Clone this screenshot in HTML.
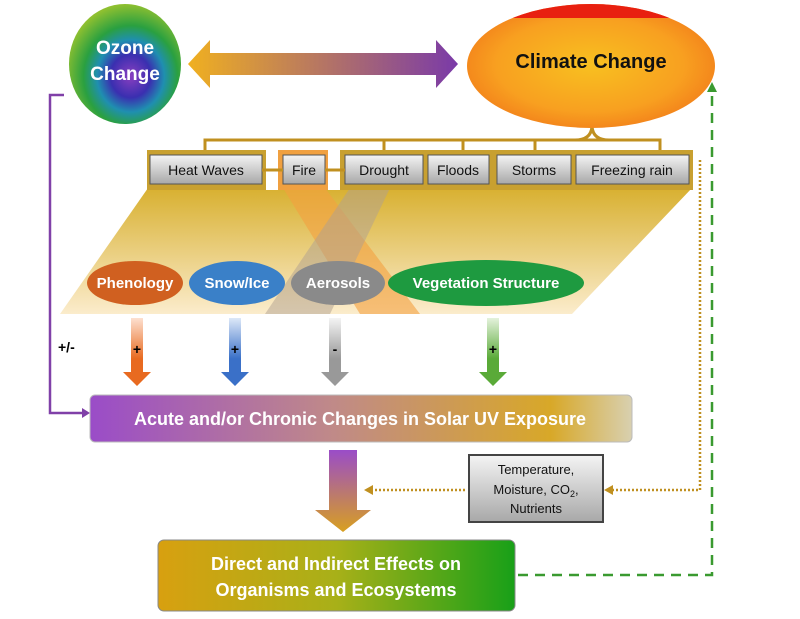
<!DOCTYPE html>
<html><head><meta charset="utf-8"><style>
body{margin:0;background:#fff;}
svg{display:block;font-family:"Liberation Sans",sans-serif;}
</style></head><body>
<svg width="800" height="619" viewBox="0 0 800 619">
<defs>
<radialGradient id="oz" cx="0.55" cy="0.6" r="0.6">
<stop offset="0" stop-color="#8a3fc0"/><stop offset="0.3" stop-color="#3a2fb0"/><stop offset="0.5" stop-color="#1f8fb0"/><stop offset="0.7" stop-color="#2aa040"/><stop offset="1" stop-color="#8fc030"/></radialGradient>
<radialGradient id="gl" cx="0.5" cy="0.5" r="0.6">
<stop offset="0" stop-color="#f8c020"/><stop offset="0.6" stop-color="#f8a020"/><stop offset="1" stop-color="#f07018"/></radialGradient>
<linearGradient id="dbl" x1="0" x2="1"><stop offset="0" stop-color="#f0b020"/><stop offset="1" stop-color="#7a3aa8"/></linearGradient>
<linearGradient id="uv" x1="0" x2="1"><stop offset="0" stop-color="#9a4cc8"/><stop offset="0.45" stop-color="#c08a88"/><stop offset="0.85" stop-color="#d8a828"/><stop offset="1" stop-color="#d8d0b0"/></linearGradient>
<linearGradient id="ef" x1="0" x2="1"><stop offset="0" stop-color="#d8a010"/><stop offset="0.5" stop-color="#a8b018"/><stop offset="1" stop-color="#18a018"/></linearGradient>
<linearGradient id="dn" x1="0" y1="0" x2="0" y2="1"><stop offset="0" stop-color="#9a4cc8"/><stop offset="1" stop-color="#d8a020"/></linearGradient>
<linearGradient id="box" x1="0" y1="0" x2="0" y2="1"><stop offset="0" stop-color="#f4f4f4"/><stop offset="1" stop-color="#a8a8a8"/></linearGradient>
<linearGradient id="tz" x1="0" y1="0" x2="0" y2="1"><stop offset="0" stop-color="#d8b030"/><stop offset="1" stop-color="#fbeccc"/></linearGradient>
<linearGradient id="ao" x1="0" y1="0" x2="0" y2="1"><stop offset="0" stop-color="#fde0d0"/><stop offset="0.6" stop-color="#e86a20"/></linearGradient>
<linearGradient id="ab" x1="0" y1="0" x2="0" y2="1"><stop offset="0" stop-color="#dde8f8"/><stop offset="0.6" stop-color="#3a70c8"/></linearGradient>
<linearGradient id="ag" x1="0" y1="0" x2="0" y2="1"><stop offset="0" stop-color="#f4f4f4"/><stop offset="0.6" stop-color="#999"/></linearGradient>
<linearGradient id="av" x1="0" y1="0" x2="0" y2="1"><stop offset="0" stop-color="#e4f2dc"/><stop offset="0.6" stop-color="#5aaa38"/></linearGradient>
<clipPath id="gc"><ellipse cx="591" cy="66" rx="124" ry="62"/></clipPath>
</defs>
<polygon points="148,188 692,188 572,314 60,314" fill="url(#tz)"/>
<polygon points="283,188 325,188 420,314 360,314" fill="#f4a040" opacity="0.6"/>
<polygon points="350,188 390,188 330,314 265,314" fill="#b0a090" opacity="0.5"/>
<rect x="147" y="150" width="546" height="40" fill="#c8a030"/>
<rect x="266" y="150" width="12" height="40" fill="#fff"/><rect x="328" y="150" width="12" height="40" fill="#fff"/>
<rect x="278" y="150" width="50" height="40" fill="#f0a040"/>
<g stroke="#555" stroke-width="1" fill="url(#box)">
<rect x="150" y="155" width="112" height="29"/><rect x="283" y="155" width="42" height="29"/><rect x="345" y="155" width="78" height="29"/><rect x="428" y="155" width="61" height="29"/><rect x="497" y="155" width="74" height="29"/><rect x="576" y="155" width="113" height="29"/>
</g>
<g font-size="14" fill="#111" text-anchor="middle">
<text x="206" y="175">Heat Waves</text><text x="304" y="175">Fire</text><text x="384" y="175">Drought</text><text x="458" y="175">Floods</text><text x="534" y="175">Storms</text><text x="632" y="175">Freezing rain</text></g>
<g stroke="#c09020" stroke-width="3" fill="none">
<path d="M205,150 V140 H660 V150"/><path d="M384,140 V150 M463,140 V150 M535,140 V150"/>
<path d="M575,140 Q592,140 592,125 Q592,140 609,140"/>
<path d="M262,170 H283 M345,170 H325"/></g>
<ellipse cx="135" cy="283" rx="48" ry="22" fill="#d06020"/>
<ellipse cx="237" cy="283" rx="48" ry="22" fill="#3a80c8"/>
<ellipse cx="338" cy="283" rx="47" ry="22" fill="#8a8a8a"/>
<ellipse cx="486" cy="283" rx="98" ry="23" fill="#1e9a40"/>
<g font-size="15" font-weight="bold" fill="#fff" text-anchor="middle">
<text x="135" y="288">Phenology</text><text x="237" y="288">Snow/Ice</text><text x="338" y="288">Aerosols</text><text x="486" y="288">Vegetation Structure</text></g>
<ellipse cx="125" cy="64" rx="56" ry="60" fill="url(#oz)"/>
<g font-size="19" font-weight="bold" fill="#fff" text-anchor="middle"><text x="125" y="54">Ozone</text><text x="125" y="80">Change</text></g>
<polygon points="188,64 210,40 210,53 436,53 436,40 458,64 436,88 436,75 210,75 210,88" fill="url(#dbl)"/>
<g clip-path="url(#gc)">
<rect x="460" y="0" width="260" height="130" fill="url(#gl)"/>
<rect x="460" y="0" width="260" height="18" fill="#e82010"/>
</g>
<text x="591" y="68" font-size="20" font-weight="bold" fill="#111" text-anchor="middle">Climate Change</text>
<path d="M64,95 H50 V413 H84" stroke="#8040a8" stroke-width="2.5" fill="none"/>
<polygon points="90,413 82,408 82,418" fill="#8040a8"/>
<text x="58" y="352" font-size="14" font-weight="bold">+/-</text>
<polygon points="131,318 143,318 143,372 151,372 137,386 123,372 131,372" fill="url(#ao)"/>
<polygon points="229,318 241,318 241,372 249,372 235,386 221,372 229,372" fill="url(#ab)"/>
<polygon points="329,318 341,318 341,372 349,372 335,386 321,372 329,372" fill="url(#ag)"/>
<polygon points="487,318 499,318 499,372 507,372 493,386 479,372 487,372" fill="url(#av)"/>
<g font-size="14" font-weight="bold" text-anchor="middle"><text x="137" y="354">+</text><text x="235" y="354">+</text><text x="335" y="354">-</text><text x="493" y="354">+</text></g>
<rect x="90" y="395" width="542" height="47" rx="5" fill="url(#uv)" stroke="#bbb"/>
<text x="360" y="425" font-size="18" font-weight="bold" fill="#fff" text-anchor="middle">Acute and/or Chronic Changes in Solar UV Exposure</text>
<polygon points="329,450 357,450 357,510 371,510 343,532 315,510 329,510" fill="url(#dn)"/>
<rect x="469" y="455" width="134" height="67" fill="url(#box)" stroke="#444" stroke-width="2"/>
<g font-size="13" text-anchor="middle" fill="#111"><text x="536" y="474">Temperature,</text><text x="536" y="494">Moisture, CO<tspan font-size="9" dy="3">2</tspan><tspan dy="-3">,</tspan></text><text x="536" y="513">Nutrients</text></g>
<g stroke="#c09020" stroke-width="2.5" stroke-dasharray="2,2" fill="none">
<path d="M465,490 H372"/><path d="M700,160 V490 H612"/></g>
<polygon points="364,490 373,485 373,495" fill="#c09020"/><polygon points="604,490 613,485 613,495" fill="#c09020"/>
<rect x="158" y="540" width="357" height="71" rx="6" fill="url(#ef)" stroke="#888"/>
<g font-size="18" font-weight="bold" fill="#fff" text-anchor="middle"><text x="336" y="570">Direct and Indirect Effects on</text><text x="336" y="596">Organisms and Ecosystems</text></g>
<path d="M518,575 H712 V90" stroke="#3a9a30" stroke-width="2.5" stroke-dasharray="10,7" fill="none"/>
<polygon points="712,82 707,92 717,92" fill="#3a9a30"/>
</svg>
</body></html>
